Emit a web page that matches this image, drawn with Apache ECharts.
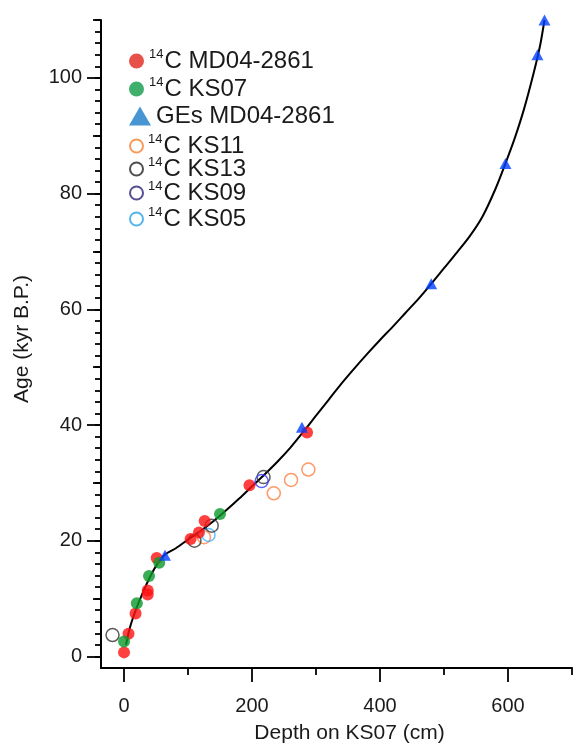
<!DOCTYPE html>
<html>
<head>
<meta charset="utf-8">
<script src="https://cdn.jsdelivr.net/npm/echarts@6/dist/echarts.min.js"></script>
<style>
html,body{margin:0;padding:0;background:#fff;}
#chart{width:573px;height:749px;}
</style>
</head>
<body>
<div id="chart"></div>
<script>
// ---- Data (depth on KS07 in cm, age in kyr B.P.) ----
var c14MD04 = [[0,0.7],[7,3.9],[18,7.4],[37,11.4],[37,10.7],[51,17.0],[104,20.3],[117,21.4],[126,23.4],[196,29.6],[286,38.7]];
var c14KS07 = [[0,2.6],[20,9.2],[39,13.9],[55,16.2],[150,24.6]];
var gesMD04 = [[64,17.5],[278,39.6],[480,64.4],[596,85.2],[646,104],[657,110]];
var c14KS11 = [[125,20.6],[234,28.2],[261,30.5],[288,32.3]];
var c14KS13 = [[-18,3.7],[110,20.0],[137,22.6],[218,31.0]];
var c14KS09 = [[215,30.3]];
var c14KS05 = [[132,21.0]];
var ageModel = [[3,2.0],[10,5.3],[20,8.5],[30,11.2],[40,13.6],[50,15.6],[64,17.6],[81,18.7],[100,20.2],[120,21.7],[140,23.4],[160,25.3],[180,27.3],[200,29.4],[220,31.5],[240,33.7],[260,36.1],[280,38.8],[300,41.6],[320,44.4],[340,47.2],[360,49.8],[380,52.3],[400,54.7],[420,57.0],[440,59.4],[460,61.8],[480,64.4],[500,67.1],[520,69.8],[540,72.6],[560,76.0],[580,80.7],[596,85.2],[610,89.4],[625,94.6],[640,100.8],[650,105.5],[657,110]];

var xLabelTicks = [0,200,400,600];
var xMinorTicks = [100,300,500,700];
var yLabelTicks = [0,20,40,60,80,100];
var yMidTicks = [10,30,50,70,90,110];
var yMinorTicks = [];
for (var v = 0; v <= 110; v += 2) yMinorTicks.push(v);

var FONT = '"Liberation Sans", Arial, sans-serif';

function legendItem(name, top, icon, w, h, style) {
  return {
    show: true, selectedMode: false, left: 129, top: top, padding: 0,
    itemWidth: w, itemHeight: h, orient: 'vertical',
    data: [{ name: name, icon: icon, itemStyle: style }],
    formatter: function (n) {
      if (n.indexOf('GEs') === 0) return '{t|' + n + '}';
      return '{sup|14}{t|' + n.replace(/^14/, '') + '}';
    },
    textStyle: {
      fontFamily: FONT, color: '#1a1a1a',
      rich: {
        sup: { fontSize: 13, fontFamily: FONT, color: '#1a1a1a', verticalAlign: 'top', lineHeight: 26, padding: [0, 1, 0, 0] },
        t: { fontSize: 24, fontFamily: FONT, color: '#1a1a1a', lineHeight: 26 }
      }
    }
  };
}

var chart = echarts.init(document.getElementById('chart'), null, { renderer: 'canvas' });

var axisLineStyle = { color: '#000', width: 2 };
var tickStyle = { color: '#000', width: 1.8 };

function extraAxis(min, max, pos, len, vals) {
  return {
    type: 'value', min: min, max: max, position: pos,
    axisLine: { show: false, onZero: false },
    axisTick: { show: true, inside: false, length: len, lineStyle: tickStyle, customValues: vals },
    axisLabel: { show: false },
    splitLine: { show: false }
  };
}

var option = {
  animation: false,
  backgroundColor: '#fff',
  grid: { left: 101, right: 1, top: 20, bottom: 81, containLabel: false },
  legend: [
    legendItem('14C MD04-2861', 48, 'circle', 15, 15, { color: '#e1261c' }),
    legendItem('14C KS07', 76, 'circle', 15, 15, { color: '#109a47' }),
    legendItem('GEs MD04-2861', 104, 'triangle', 22, 19, { color: '#1a7bc8' }),
    legendItem('14C KS11', 133, 'circle', 13, 13, { color: 'rgba(255,255,255,0)', borderColor: '#f58232', borderWidth: 2 }),
    legendItem('14C KS13', 156, 'circle', 13, 13, { color: 'rgba(255,255,255,0)', borderColor: '#222222', borderWidth: 2 }),
    legendItem('14C KS09', 180, 'circle', 13, 13, { color: 'rgba(255,255,255,0)', borderColor: '#2c2377', borderWidth: 2 }),
    legendItem('14C KS05', 206, 'circle', 13, 13, { color: 'rgba(255,255,255,0)', borderColor: '#29a3e6', borderWidth: 2 })
  ],
  xAxis: [
    {
      type: 'value', min: -36, max: 700, position: 'bottom',
      name: 'Depth on KS07 (cm)', nameLocation: 'middle', nameGap: 55,
      nameTextStyle: { fontFamily: FONT, fontSize: 21, color: '#1a1a1a', padding: [0, 0, 0, 26] },
      axisLine: { show: true, onZero: false, lineStyle: axisLineStyle },
      axisTick: { show: true, inside: false, length: 14, lineStyle: tickStyle, customValues: xLabelTicks },
      axisLabel: { show: true, margin: 28, fontFamily: FONT, fontSize: 20, color: '#1a1a1a', customValues: xLabelTicks },
      splitLine: { show: false }
    },
    extraAxis(-36, 700, 'bottom', 7, xMinorTicks)
  ],
  yAxis: [
    {
      type: 'value', min: -2, max: 110, position: 'left',
      name: 'Age (kyr B.P.)', nameLocation: 'middle', nameGap: 68,
      nameTextStyle: { fontFamily: FONT, fontSize: 21, color: '#1a1a1a', padding: [0, 0, 0, 10] },
      axisLine: { show: true, onZero: false, lineStyle: axisLineStyle },
      axisTick: { show: true, inside: false, length: 14, lineStyle: tickStyle, customValues: yLabelTicks },
      axisLabel: { show: true, margin: 19, fontFamily: FONT, fontSize: 20, color: '#1a1a1a', customValues: yLabelTicks },
      splitLine: { show: false }
    },
    extraAxis(-2, 110, 'left', 8, yMidTicks),
    extraAxis(-2, 110, 'left', 6, yMinorTicks)
  ],
  series: [
    {
      name: 'age model', type: 'line', data: ageModel, smooth: 0.3,
      showSymbol: false, symbol: 'none', lineStyle: { color: '#000', width: 2 }, z: 1, silent: true
    },
    {
      name: '14C KS11', type: 'scatter', data: c14KS11, symbol: 'circle', symbolSize: 13,
      itemStyle: { color: 'rgba(255,255,255,0)', borderColor: '#ff8040', borderWidth: 1.5 }, z: 2
    },
    {
      name: '14C KS05', type: 'scatter', data: c14KS05, symbol: 'circle', symbolSize: 13,
      itemStyle: { color: 'rgba(255,255,255,0)', borderColor: '#40b0ff', borderWidth: 1.5 }, z: 2
    },
    {
      name: '14C KS13', type: 'scatter', data: c14KS13, symbol: 'circle', symbolSize: 13,
      itemStyle: { color: 'rgba(255,255,255,0)', borderColor: '#333333', borderWidth: 1.5 }, z: 2
    },
    {
      name: '14C KS09', type: 'scatter', data: c14KS09, symbol: 'circle', symbolSize: 13,
      itemStyle: { color: 'rgba(255,255,255,0)', borderColor: '#3a3aff', borderWidth: 1.5 }, z: 2
    },
    {
      name: '14C MD04-2861', type: 'scatter', data: c14MD04, symbol: 'circle', symbolSize: 12,
      itemStyle: { color: '#ff1010' }, z: 3
    },
    {
      name: '14C KS07', type: 'scatter', data: c14KS07, symbol: 'circle', symbolSize: 12,
      itemStyle: { color: '#0a9a2a' }, z: 3
    },
    {
      name: 'GEs MD04-2861', type: 'scatter', data: gesMD04, symbol: 'triangle', symbolSize: [12, 11],
      itemStyle: { color: '#0040ff' }, z: 4
    }
  ]
};

chart.setOption(option);
</script>
</body>
</html>
